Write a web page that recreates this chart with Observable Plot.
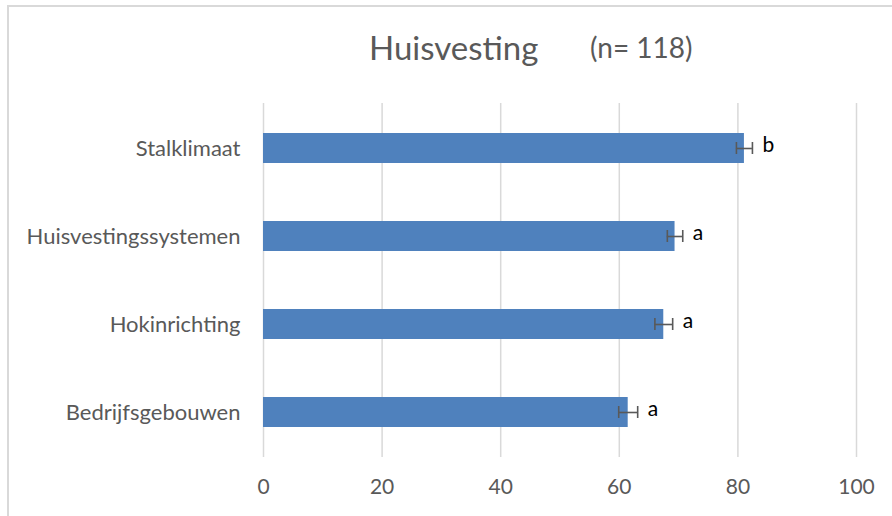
<!DOCTYPE html>
<html>
<head>
<meta charset="utf-8">
<script src="https://cdn.jsdelivr.net/npm/d3@7"></script>
<script src="https://cdn.jsdelivr.net/npm/@observablehq/plot@0.6"></script>
<style>
  body { margin: 0; background: #fff; }
  #wrap { position: relative; width: 892px; height: 516px; overflow: hidden; font-family: Lato, "Open Sans", sans-serif; }
  #frame { position: absolute; left: 7px; top: 5px; width: 900px; height: 520px; border-left: 2px solid #d9d9d9; border-top: 2px solid #d9d9d9; box-sizing: border-box; }
  #title { position: absolute; left: 369px; top: 27px; color: #595959; font-size: 33px; white-space: nowrap; }
  #title .n { position: absolute; left: 221px; top: 3px; font-size: 28px; }
  #chart { position: absolute; left: 0; top: 0; }
</style>
</head>
<body>
<div id="wrap">
  <div id="frame"></div>
  <div id="chart"></div>
  <div id="title">Huisvesting<span class="n">(n= 118)</span></div>
</div>
<script>
const categories = ["Stalklimaat", "Huisvestingssystemen", "Hokinrichting", "Bedrijfsgebouwen"];
const values = [81.1, 69.4, 67.5, 61.5];
const errors = [1.35, 1.3, 1.5, 1.6];
const letters = ["b", "a", "a", "a"];
const xTicks = [0, 20, 40, 60, 80, 100];

const data = categories.map((c, i) => ({cat: c, v: values[i], e: errors[i], l: letters[i]}));

const plot = Plot.plot({
  width: 892,
  height: 516,
  marginTop: 103,
  marginBottom: 59,
  marginLeft: 263,
  marginRight: 36,
  style: {fontFamily: "Lato, 'Open Sans', sans-serif", background: "transparent"},
  x: {domain: [0, 100], ticks: xTicks},
  y: {domain: categories, paddingInner: 0.661, paddingOuter: 0.3305},
  marks: [
    Plot.gridX(xTicks, {stroke: "#d9d9d9", strokeOpacity: 1, strokeWidth: 1.5}),
    Plot.barX(data, {y: "cat", x: "v", fill: "#4f81bd"}),
    Plot.ruleY(data, {y: "cat", x1: d => d.v - d.e, x2: d => d.v + d.e, stroke: "#595959", strokeWidth: 1.6}),
    Plot.tickX(data, {y: "cat", x: d => d.v - d.e, stroke: "#595959", strokeWidth: 1.6, insetTop: 9, insetBottom: 9}),
    Plot.tickX(data, {y: "cat", x: d => d.v + d.e, stroke: "#595959", strokeWidth: 1.6, insetTop: 9, insetBottom: 9}),
    Plot.text(data, {y: "cat", x: d => d.v + d.e, text: "l", dx: 10, dy: -3, textAnchor: "start", fill: "#000", fontSize: 21}),
    Plot.axisX({ticks: xTicks, tickSize: 0, tickPadding: 22, fontSize: 21, color: "#595959", label: null}),
    Plot.axisY({tickSize: 0, tickPadding: 23, fontSize: 22, color: "#595959", label: null})
  ]
});
document.getElementById("chart").appendChild(plot);
</script>
</body>
</html>
